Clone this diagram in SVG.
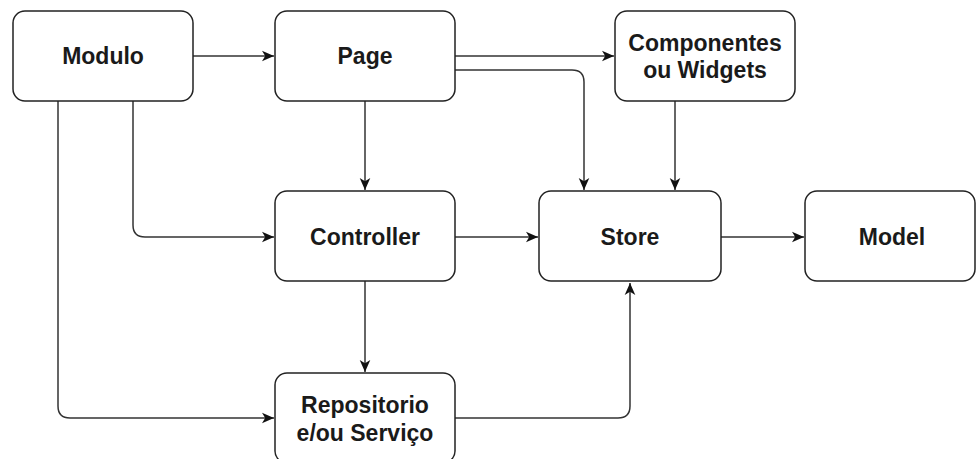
<svg xmlns="http://www.w3.org/2000/svg" width="976" height="459" viewBox="0 0 976 459">
<style>
.box{fill:#ffffff;stroke:#222222;stroke-width:1.5}
.lbl{font-family:"Liberation Sans",Arial,sans-serif;font-weight:bold;font-size:23px;fill:#1a1a1a;text-anchor:middle}
.edge{fill:none;stroke:#333333;stroke-width:1.5}
</style>
<defs>
<marker id="arr" markerUnits="userSpaceOnUse" markerWidth="13" markerHeight="13" refX="12" refY="6.5" orient="auto" viewBox="0 0 13 13">
<path d="M0,1.2 L12,6.5 L0,11.8 L3.2,6.5 Z" fill="#111111"/>
</marker>
</defs>
<rect width="976" height="459" fill="#ffffff"/>
<g id="connectors">
<path class="edge" d="M193,56 L274,56" marker-end="url(#arr)"/>
<path class="edge" d="M58,101 L58,406 Q58,418 70,418 L274,418" marker-end="url(#arr)"/>
<path class="edge" d="M133,101 L133,225 Q133,237 145,237 L274,237" marker-end="url(#arr)"/>
<path class="edge" d="M455,56 L614,56" marker-end="url(#arr)"/>
<path class="edge" d="M455,70 L572,70 Q584,70 584,82 L584,190" marker-end="url(#arr)"/>
<path class="edge" d="M675,101 L675,190" marker-end="url(#arr)"/>
<path class="edge" d="M365,101 L365,190" marker-end="url(#arr)"/>
<path class="edge" d="M455,237 L538,237" marker-end="url(#arr)"/>
<path class="edge" d="M365,281 L365,372" marker-end="url(#arr)"/>
<path class="edge" d="M455,418 L618,418 Q630,418 630,406 L630,283" marker-end="url(#arr)"/>
<path class="edge" d="M721,237 L804,237" marker-end="url(#arr)"/>
</g>
<g id="modulo">
<rect class="box" x="13" y="11" width="180" height="90" rx="12"/>
<text class="lbl" x="103" y="64">Modulo</text>
</g>
<g id="page">
<rect class="box" x="275" y="11" width="180" height="90" rx="12"/>
<text class="lbl" x="365" y="64">Page</text>
</g>
<g id="componentes">
<rect class="box" x="615" y="11" width="180" height="90" rx="12"/>
<text class="lbl" x="705" y="51">Componentes</text>
<text class="lbl" x="705" y="78">ou Widgets</text>
</g>
<g id="controller">
<rect class="box" x="275" y="191" width="180" height="90" rx="12"/>
<text class="lbl" x="365" y="245">Controller</text>
</g>
<g id="store">
<rect class="box" x="539" y="191" width="182" height="90" rx="12"/>
<text class="lbl" x="630" y="245">Store</text>
</g>
<g id="model">
<rect class="box" x="805" y="191" width="170" height="90" rx="12"/>
<text class="lbl" x="892" y="245">Model</text>
</g>
<g id="repositorio">
<rect class="box" x="275" y="373" width="180" height="90" rx="12"/>
<text class="lbl" x="365" y="413">Repositorio</text>
<text class="lbl" x="365" y="441">e/ou Serviço</text>
</g>
</svg>
